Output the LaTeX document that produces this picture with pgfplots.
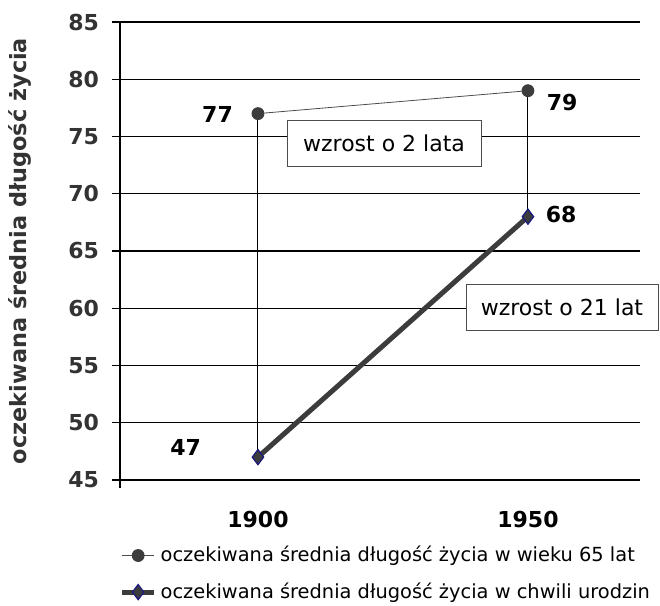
\documentclass[border=0pt]{standalone}
\usepackage{fontspec}
\setmainfont{DejaVu Sans}
\usepackage{pgfplots}
\pgfplotsset{compat=1.18}
\definecolor{ser}{HTML}{3C3C3C}
\definecolor{navy}{HTML}{1A1A80}
\begin{document}
\begin{tikzpicture}
\begin{axis}[
  scale only axis,
  width=260pt, height=229pt,
  xmin=-0.511, xmax=1.415,
  ymin=45, ymax=85,
  ytick={45,50,...,85},
  xtick={0,1},
  xticklabels={\textbf{1900},\textbf{1950}},
  yticklabel={\textbf{\pgfmathprintnumber{\tick}}},
  /pgf/number format/assume math mode=true,
  axis y line*=left,
  axis x line*=bottom,
  axis line style={-, line width=0.6pt},
  y axis line style={shorten <=-4pt},
  x tick style={draw=none},
  y tick style={line width=0.6pt, black},
  tick align=outside,
  major tick length=4pt,
  ymajorgrids,
  grid style={black, line width=0.6pt},
  tick label style={font=\fontsize{11}{13}\selectfont, text=black!80},
  yticklabel style={xshift=-3pt},
  xticklabel style={yshift=-8pt, text=black},
  ylabel={\textbf{oczekiwana średnia długość życia}},
  ylabel style={at={(axis description cs:-0.192,0.5)}, anchor=center, font=\fontsize{11.2}{12}\selectfont, text=black!80},
  legend style={at={(0.513,-0.135)}, anchor=north, draw=none, font=\fontsize{9.7}{11}\selectfont, row sep=5pt, inner sep=0pt, legend cell align=left},
  legend image code/.code={\draw[#1] (0pt,0pt) -- (16pt,0pt); \draw[#1,only marks] plot coordinates {(8pt,0pt)};},
  clip=false,
]
\coordinate (bl) at (axis description cs:0,0);
\coordinate (tr) at (axis description cs:1,1);
\addplot[black, line width=0.5pt, forget plot] coordinates {(0,77) (0,47)};
\addplot[black, line width=0.5pt, forget plot] coordinates {(1,79) (1,68)};
\addplot[black!70, line width=0.4pt, mark=*, mark size=3pt, mark options={fill=ser, draw=ser}] coordinates {(0,77) (1,79)};
\addlegendentry{oczekiwana średnia długość życia w wieku 65 lat}
\addplot[ser, line width=2.5pt, mark=diamond*, mark size=3.8pt, mark options={fill=ser, draw=navy, line width=0.6pt}] coordinates {(0,47) (1,68)};
\addlegendentry{oczekiwana średnia długość życia w chwili urodzin}
\node[font=\fontsize{11}{13}\selectfont\bfseries, anchor=east] at (axis cs:-0.067,76.9) {77};
\node[font=\fontsize{11}{13}\selectfont\bfseries, anchor=west] at (axis cs:1.044,77.95) {79};
\node[font=\fontsize{11}{13}\selectfont\bfseries, anchor=west] at (axis cs:1.04,68.2) {68};
\node[font=\fontsize{11}{13}\selectfont\bfseries, anchor=east] at (axis cs:-0.185,47.87) {47};
\node[draw=black!70, fill=white, font=\fontsize{11}{13}\selectfont, minimum width=97pt, minimum height=23pt, inner sep=2pt] at (axis cs:0.467,74.37) {wzrost o 2 lata};
\node[draw=black!70, fill=white, font=\fontsize{11}{13}\selectfont, minimum width=96pt, minimum height=23pt, inner sep=2pt] at (axis cs:1.126,60.1) {wzrost o 21 lat};
\end{axis}
\pgfresetboundingbox
\path ([shift={(-60pt,-63pt)}]bl) rectangle ([shift={(10pt,11pt)}]tr);
\end{tikzpicture}
\end{document}
